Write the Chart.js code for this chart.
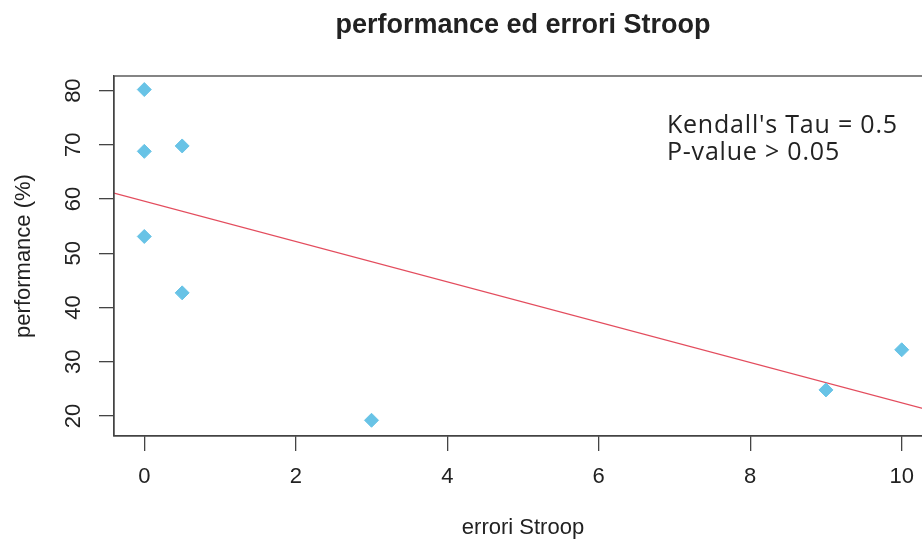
<!DOCTYPE html>
<html>
<head>
<meta charset="utf-8">
<title>performance ed errori Stroop</title>
<script src="https://cdn.jsdelivr.net/npm/chart.js@4/dist/chart.umd.min.js"></script>
<style>
  html, body { margin: 0; padding: 0; background: #fff; overflow: hidden; }
  #wrap { position: relative; width: 1046px; height: 546px; }
</style>
</head>
<body>
<div id="wrap"><canvas id="myChart"></canvas></div>
<script>
// errori Stroop vs performance (%)
const errori = [0, 0, 0, 0.5, 0.5, 3, 9, 10];
const performance = [80.2, 68.8, 53.1, 69.8, 42.7, 19.2, 24.8, 32.2];

// lm(performance ~ errori)
const intercept = 59.6;
const slope = -3.72;

const xTicks = [0, 2, 4, 6, 8, 10];
const yTicks = [20, 30, 40, 50, 60, 70, 80];
const xRange = [-0.4, 10.4];
const yRange = [16.3, 82.7];

const mainTitle = "performance ed errori Stroop";
const statLines = ["Kendall's Tau = 0.5", "P-value > 0.05"];

const AXIS_COLOR = "#444";
const TEXT_COLOR = "#222";
const BASE_FONT = "'Liberation Sans', Arial, Helvetica, sans-serif";

const points = errori.map((x, i) => ({ x: x, y: performance[i] }));
const fitLine = xRange.map((x) => ({ x: x, y: intercept + slope * x }));

// box around the plot region, title over it, rotated y labels, stats text
const rPlotExtras = {
  id: "rPlotExtras",
  afterDraw(chart) {
    const { ctx, chartArea, scales } = chart;
    ctx.save();
    ctx.strokeStyle = AXIS_COLOR;
    ctx.lineWidth = 1.3;
    ctx.strokeRect(
      chartArea.left,
      chartArea.top,
      chartArea.right - chartArea.left,
      chartArea.bottom - chartArea.top,
    );

    // main title is centred on the plot region, not the canvas
    ctx.fillStyle = TEXT_COLOR;
    ctx.font = "bold 27px " + BASE_FONT;
    ctx.textAlign = "center";
    ctx.textBaseline = "middle";
    ctx.fillText(mainTitle, (chartArea.left + chartArea.right) / 2, 26);

    ctx.font = "22px " + BASE_FONT;
    yTicks.forEach((v) => {
      const y = scales.y.getPixelForValue(v);
      ctx.save();
      ctx.translate(74, y);
      ctx.rotate(-Math.PI / 2);
      ctx.fillText(String(v), 0, 0);
      ctx.restore();
    });

    ctx.font = "25px 'Open Sans', sans-serif";
    if ("letterSpacing" in ctx) ctx.letterSpacing = "0.8px";
    ctx.textAlign = "left";
    ctx.textBaseline = "alphabetic";
    const tx = scales.x.getPixelForValue(6.9);
    const ty = scales.y.getPixelForValue(72.2);
    statLines.forEach((line, i) => {
      ctx.fillText(line, tx, ty + i * 27);
    });
    ctx.restore();
  },
};

const ctx = document.getElementById("myChart").getContext("2d");
new Chart(ctx, {
  type: "scatter",
  data: {
    datasets: [
      {
        type: "line",
        data: fitLine,
        borderColor: "rgba(222, 45, 65, 0.85)",
        borderWidth: 1.2,
        pointRadius: 0,
        fill: false,
        order: 2,
      },
      {
        data: points,
        pointStyle: "rectRot",
        pointRadius: 7,
        backgroundColor: "#68c3e6",
        borderColor: "#68c3e6",
        borderWidth: 1,
        order: 1,
      },
    ],
  },
  options: {
    responsive: true,
    maintainAspectRatio: false,
    animation: false,
    devicePixelRatio: 1,
    layout: { padding: { left: 0, right: 114, top: 76, bottom: 0 } },
    plugins: {
      legend: { display: false },
      tooltip: { enabled: false },
      title: { display: false },
    },
    scales: {
      x: {
        type: "linear",
        min: xRange[0],
        max: xRange[1],
        afterBuildTicks: (scale) => {
          scale.ticks = xTicks.map((v) => ({ value: v }));
        },
        afterFit: (scale) => {
          scale.height = 110;
        },
        grid: {
          display: true,
          drawOnChartArea: false,
          drawTicks: true,
          tickLength: 15,
          color: AXIS_COLOR,
          lineWidth: 1.3,
        },
        border: { display: true, color: AXIS_COLOR, width: 1.3 },
        ticks: {
          color: TEXT_COLOR,
          padding: 13,
          font: { family: BASE_FONT, size: 22 },
        },
        title: {
          display: true,
          text: "errori Stroop",
          color: TEXT_COLOR,
          font: { family: BASE_FONT, size: 22, lineHeight: 1.2 },
          padding: { top: 0, bottom: 5 },
        },
      },
      y: {
        type: "linear",
        min: yRange[0],
        max: yRange[1],
        afterBuildTicks: (scale) => {
          scale.ticks = yTicks.map((v) => ({ value: v }));
        },
        afterFit: (scale) => {
          scale.width = 114;
        },
        grid: {
          display: true,
          drawOnChartArea: false,
          drawTicks: true,
          tickLength: 15,
          color: AXIS_COLOR,
          lineWidth: 1.3,
        },
        border: { display: true, color: AXIS_COLOR, width: 1.3 },
        ticks: { display: false },
        title: {
          display: true,
          text: "performance (%)",
          color: TEXT_COLOR,
          font: { family: BASE_FONT, size: 22, lineHeight: 1.2 },
          padding: { top: 11, bottom: 0 },
        },
      },
    },
  },
  plugins: [rPlotExtras],
});
</script>
</body>
</html>
